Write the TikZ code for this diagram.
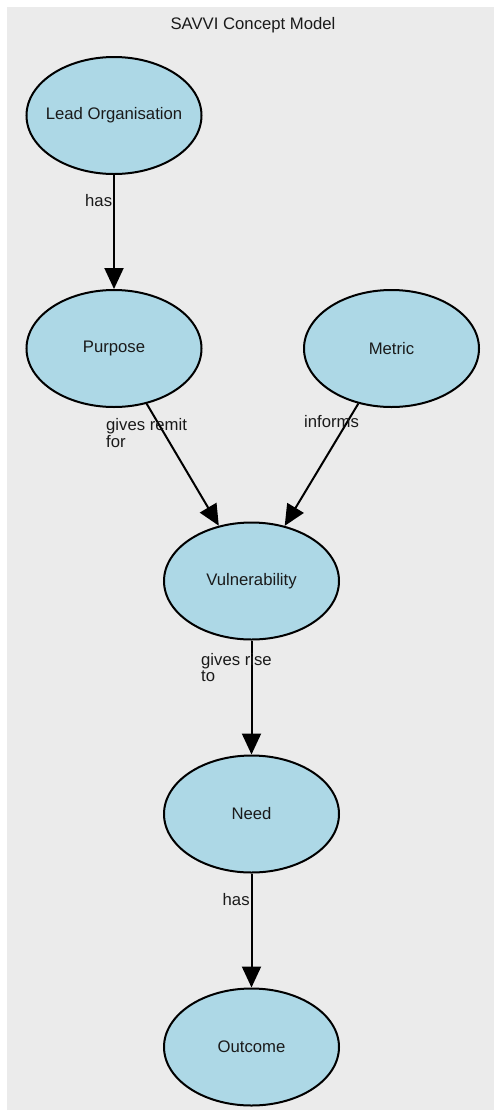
\documentclass[tikz,border=0pt]{standalone}
\usepackage{fontspec}
\setmainfont{Liberation Sans}
\usetikzlibrary{arrows.meta,shapes.geometric}
\definecolor{bggray}{HTML}{EBEBEB}
\definecolor{nodeblue}{HTML}{ADD8E6}
\definecolor{txt}{HTML}{1A1A1A}
\tikzset{
  concept/.style={ellipse, draw=black, line width=2bp, fill=nodeblue,
    minimum width=175bp, minimum height=117bp, inner sep=0pt,
    label={[text=txt, font=\fontsize{16.7bp}{17bp}\selectfont, inner sep=0pt]center:#1}},
  rel/.style={line width=2bp, -{Triangle[length=21bp,width=19bp]}},
  lbl/.style={anchor=west, align=left, inner sep=0pt, text=txt,
    font=\fontsize{16.7bp}{16.5bp}\selectfont},
}
\begin{document}
\begin{tikzpicture}[x=1bp,y=-1bp]
\useasboundingbox (0,0) rectangle (494,1118);
\fill[bggray] (7,7) rectangle (494,1110);
\node[text=txt, font=\fontsize{16.7bp}{17bp}\selectfont] (title) at (253,25) {SAVVI Concept Model};
\node[concept={Lead Organisation}] (lead) at (114,115.5) {};
\node[concept={Purpose}] (purpose) at (114,348.5) {};
\node[concept={Metric}] (metric) at (391.5,348.5) {};
\node[concept={Vulnerability}] (vuln) at (251.5,581) {};
\node[concept={Need}] (need) at (251.5,814) {};
\node[concept={Outcome}] (outcome) at (251.5,1047) {};
\draw[rel] (lead) -- (purpose);
\draw[rel] (purpose) -- (vuln);
\draw[rel] (metric) -- (vuln);
\draw[rel] (vuln) -- (need);
\draw[rel] (need) -- (outcome);
\node[lbl] (l1) at (85,201) {has};
\node[lbl] (l2) at (106,433) {gives remit\\for};
\node[lbl] (l3) at (304,422) {informs};
\node[lbl] (l4) at (201,667.5) {gives rise\\to};
\node[lbl] (l5) at (222.5,900) {has};
\end{tikzpicture}
\end{document}
